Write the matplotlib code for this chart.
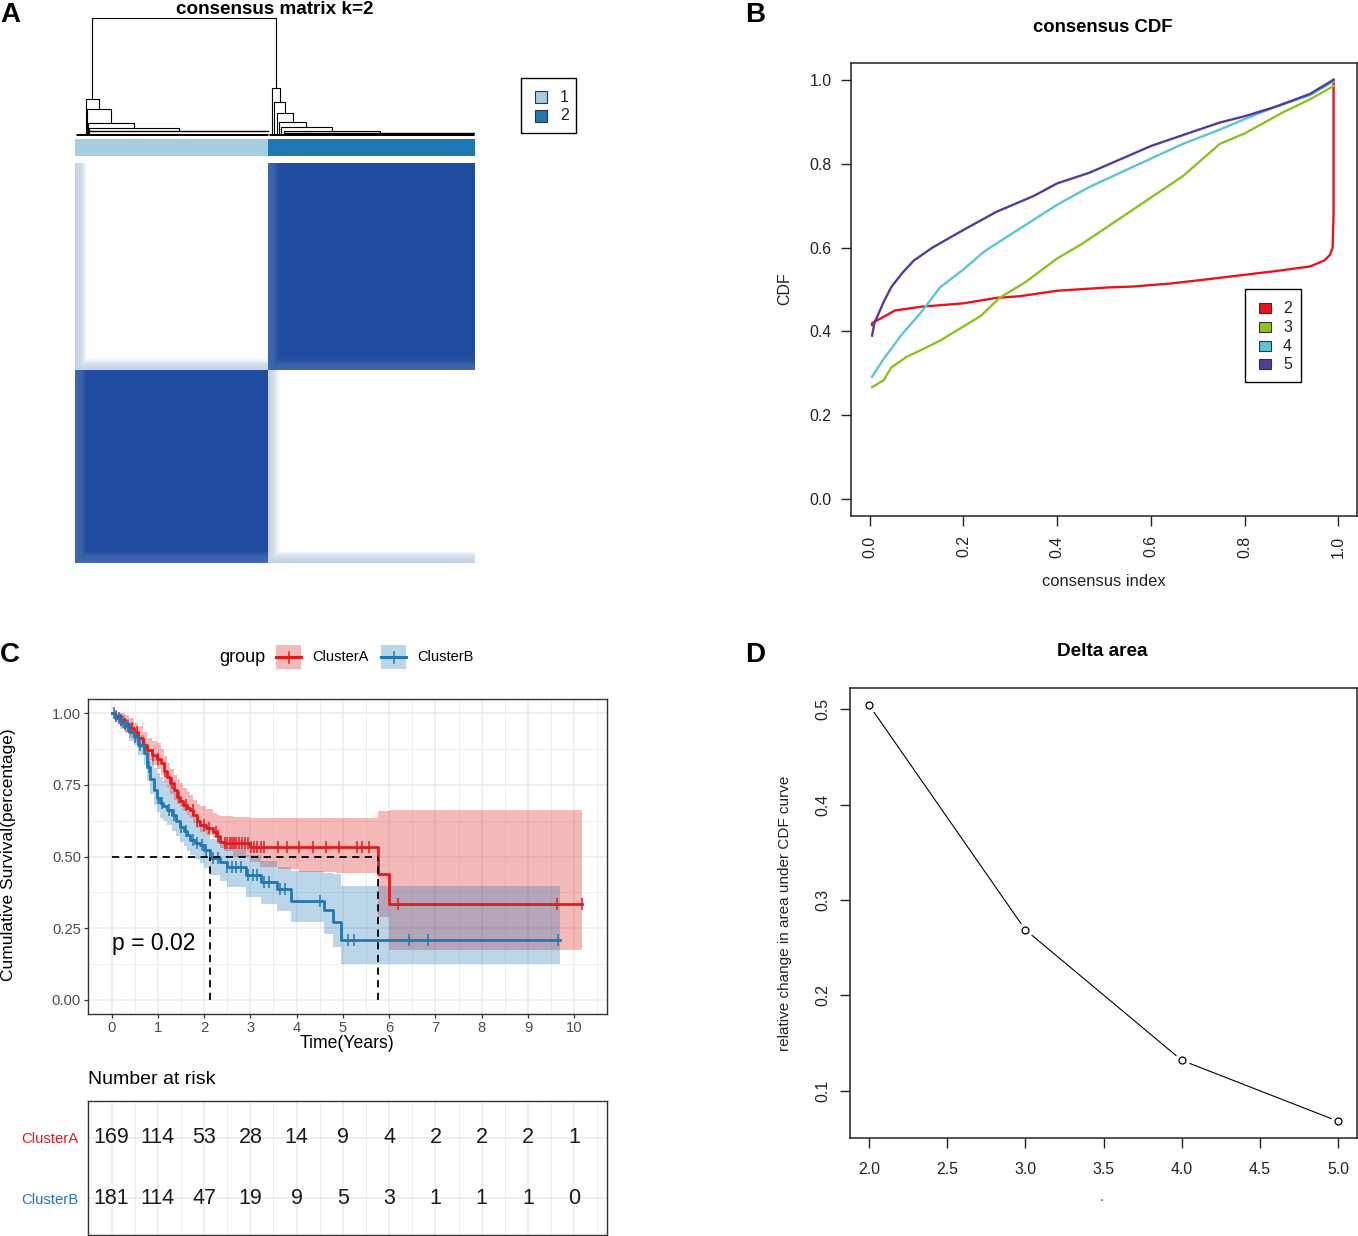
import numpy as np
import matplotlib
matplotlib.use("Agg")
import matplotlib.pyplot as plt
from matplotlib.colors import LinearSegmentedColormap, ListedColormap
from matplotlib.patches import Rectangle

plt.rcParams['font.family'] = ['Liberation Sans', 'DejaVu Sans']

# ---------------- DATA ----------------
# Panel A: consensus matrix k=2
cluster_sizes = [169, 181]
cluster_colors = ['#A6CEE3', '#1F78B4']
cluster_names = ['1', '2']
# ambiguous samples at start of each cluster (consensus with the other cluster)
amb_c1 = [0.26, 0.25, 0.24, 0.22, 0.21, 0.19, 0.17, 0.14, 0.10, 0.06]
amb_c2 = [0.25, 0.24, 0.23, 0.21, 0.19, 0.17, 0.14, 0.11, 0.07, 0.04]
# dendrogram: chain of outlier merges (column index, merge height) per cluster
dend_c1_cols = [9, 10, 11, 12]
dend_c1_heights = [0.31, 0.22, 0.10, 0.06]
dend_c1_block_h = 0.03
dend_c2_cols = [172, 174, 176, 178, 180, 182]
dend_c2_heights = [0.40, 0.28, 0.19, 0.11, 0.07, 0.03]
dend_c2_block_h = 0.015

# Panel B: consensus CDF
cdf_k = ['2', '3', '4', '5']
cdf_colors = ['#E8141B', '#8DC21F', '#5BC5D6', '#553C9A']
cdf2_x = [0.005, 0.005, 0.02, 0.054, 0.11, 0.2, 0.27, 0.32, 0.4, 0.51, 0.56, 0.64, 0.71, 0.8, 0.867, 0.94, 0.97, 0.982, 0.988, 0.99, 0.99]
cdf2_y = [0.415, 0.42, 0.429, 0.45, 0.459, 0.467, 0.48, 0.484, 0.497, 0.505, 0.507, 0.514, 0.523, 0.535, 0.544, 0.555, 0.569, 0.582, 0.6, 0.68, 1.0]
cdf3_x = [0.005, 0.03, 0.046, 0.078, 0.11, 0.15, 0.2, 0.237, 0.277, 0.333, 0.4, 0.452, 0.508, 0.6, 0.668, 0.747, 0.8, 0.883, 0.939, 0.99]
cdf3_y = [0.267, 0.284, 0.314, 0.339, 0.356, 0.378, 0.412, 0.437, 0.48, 0.518, 0.574, 0.608, 0.65, 0.719, 0.77, 0.847, 0.872, 0.923, 0.953, 0.985]
cdf4_x = [0.005, 0.03, 0.07, 0.11, 0.15, 0.2, 0.245, 0.285, 0.4, 0.468, 0.6, 0.668, 0.747, 0.8, 0.867, 0.939, 0.99]
cdf4_y = [0.292, 0.335, 0.395, 0.446, 0.505, 0.548, 0.591, 0.62, 0.702, 0.744, 0.812, 0.847, 0.881, 0.906, 0.936, 0.963, 0.996]
cdf5_x = [0.005, 0.01, 0.03, 0.046, 0.07, 0.094, 0.134, 0.2, 0.27, 0.35, 0.4, 0.468, 0.6, 0.668, 0.747, 0.8, 0.867, 0.939, 0.99]
cdf5_y = [0.39, 0.42, 0.471, 0.506, 0.54, 0.569, 0.6, 0.642, 0.685, 0.723, 0.753, 0.778, 0.842, 0.868, 0.898, 0.913, 0.936, 0.966, 1.0]

# Panel C: Kaplan-Meier
groups = ['ClusterA', 'ClusterB']
group_colors = ['#E31A1C', '#1F78B4']
kmA_t = [0, 0.08, 0.18, 0.28, 0.38, 0.48, 0.58, 0.68, 0.77, 0.87, 0.98, 1.06, 1.13, 1.20, 1.27, 1.34, 1.41, 1.48, 1.55, 1.62,
         1.70, 1.77, 1.84, 1.91, 2.05, 2.20, 2.27, 2.34, 2.42, 2.63, 2.99, 3.2, 3.6, 4.06, 4.86, 5.75, 6.00]
kmA_s = [1.0, 0.99, 0.975, 0.962, 0.948, 0.935, 0.915, 0.89, 0.871, 0.856, 0.842, 0.825, 0.80, 0.778, 0.755, 0.732, 0.709, 0.695, 0.68, 0.67,
         0.662, 0.645, 0.625, 0.61, 0.60, 0.587, 0.57, 0.552, 0.546, 0.546, 0.532, 0.532, 0.532, 0.532, 0.532, 0.44, 0.335]
kmA_up = [1.0, 1.0, 1.0, 0.995, 0.985, 0.965, 0.955, 0.935, 0.915, 0.905, 0.895, 0.875, 0.85, 0.825, 0.805, 0.785, 0.77, 0.755, 0.74, 0.725,
          0.715, 0.697, 0.685, 0.675, 0.665, 0.651, 0.645, 0.64, 0.64, 0.638, 0.635, 0.635, 0.635, 0.635, 0.635, 0.66, 0.662]
kmA_lo = [1.0, 0.975, 0.955, 0.935, 0.915, 0.9, 0.88, 0.86, 0.836, 0.82, 0.805, 0.785, 0.76, 0.743, 0.72, 0.698, 0.683, 0.674, 0.66, 0.645,
          0.635, 0.616, 0.6, 0.585, 0.575, 0.563, 0.545, 0.53, 0.52, 0.5, 0.48, 0.465, 0.455, 0.447, 0.442, 0.29, 0.175]
kmA_end = 10.17
kmA_cens = [0.1, 0.2, 0.3, 0.45, 0.55, 0.7, 0.9, 1.0, 1.15, 1.3, 1.45, 1.6, 1.75, 1.85, 2.0, 2.1, 2.25, 2.3,
            2.45, 2.5, 2.55, 2.6, 2.65, 2.7, 2.75, 2.82, 2.88, 2.95, 3.01, 3.08, 3.15, 3.22, 3.3, 3.6, 3.8, 4.05,
            4.35, 4.63, 4.92, 5.31, 5.42, 5.56, 6.2, 9.63, 10.17]
kmB_t = [0, 0.08, 0.18, 0.28, 0.38, 0.48, 0.58, 0.69, 0.77, 0.84, 0.91, 0.98, 1.05, 1.12, 1.2, 1.3, 1.4, 1.48, 1.56, 1.63,
         1.70, 1.8, 1.91, 2.0, 2.13, 2.34, 2.5, 2.9, 3.22, 3.58, 3.87, 4.6, 4.78, 4.96]
kmB_s = [1.0, 0.985, 0.97, 0.955, 0.935, 0.917, 0.89, 0.86, 0.813, 0.77, 0.732, 0.705, 0.686, 0.675, 0.662, 0.645, 0.625, 0.604, 0.59, 0.575,
         0.558, 0.548, 0.54, 0.523, 0.495, 0.481, 0.463, 0.434, 0.411, 0.388, 0.345, 0.313, 0.272, 0.21]
kmB_up = [1.0, 1.0, 0.995, 0.98, 0.965, 0.945, 0.925, 0.9, 0.87, 0.84, 0.81, 0.79, 0.778, 0.765, 0.75, 0.73, 0.71, 0.69, 0.675, 0.66,
          0.645, 0.625, 0.61, 0.595, 0.56, 0.546, 0.53, 0.505, 0.483, 0.465, 0.45, 0.442, 0.44, 0.398]
kmB_lo = [1.0, 0.97, 0.945, 0.93, 0.905, 0.89, 0.855, 0.82, 0.765, 0.72, 0.68, 0.655, 0.635, 0.625, 0.61, 0.59, 0.57, 0.55, 0.535, 0.52,
          0.505, 0.49, 0.478, 0.46, 0.435, 0.415, 0.395, 0.36, 0.335, 0.31, 0.27, 0.23, 0.185, 0.123]
kmB_end = 9.7
kmB_cens = [0.05, 0.15, 0.25, 0.35, 0.5, 0.62, 0.8, 1.0, 1.1, 1.25, 1.35, 1.5, 1.6, 1.75, 1.85, 1.95, 2.05,
            2.2, 2.3, 2.5, 2.6, 2.7, 2.8, 2.95, 3.05, 3.15, 3.3, 3.4, 3.65, 3.75, 4.5, 5.1, 5.25, 6.43, 6.83, 9.66]
p_text = 'p = 0.02'
risk_times = [0, 1, 2, 3, 4, 5, 6, 7, 8, 9, 10]
riskA = [169, 114, 53, 28, 14, 9, 4, 2, 2, 2, 1]
riskB = [181, 114, 47, 19, 9, 5, 3, 1, 1, 1, 0]

# Panel D: delta area
delta_k = [2, 3, 4, 5]
delta_area = [0.505, 0.269, 0.132, 0.068]

# ---------------- FIGURE ----------------
W, H = 1358, 1236
DPI = 100
fig = plt.figure(figsize=(W / DPI, H / DPI), dpi=DPI)


def axpx(x0, y0, x1, y1, **kw):
    return fig.add_axes([x0 / W, 1 - y1 / H, (x1 - x0) / W, (y1 - y0) / H], **kw)


# ---------- Panel A ----------
N = sum(cluster_sizes)
labels = np.repeat(np.arange(len(cluster_sizes)), cluster_sizes)
amb = np.zeros(N)
amb[:len(amb_c1)] = amb_c1
amb[cluster_sizes[0]:cluster_sizes[0] + len(amb_c2)] = amb_c2
A = np.maximum.outer(amb, amb)
same = labels[:, None] == labels[None, :]
M = np.where(same, 1 - 0.6 * A, A)

ax_d = axpx(75, 18, 475, 136)
ax_d.set_xlim(0, N)
ax_d.set_ylim(-0.01, 1.0)
ax_d.axis('off')


def draw_cluster(ax, start, size, cols, heights, block_h):
    end = start + size
    block_start = max(cols) + 1
    ax.plot([start + 0.5, end - 0.5], [0, 0], color='k', lw=2.2, solid_capstyle='butt')
    ax.plot([block_start + 0.5, end - 0.5], [block_h, block_h], color='k', lw=1.0)
    px, ph = (block_start + end) / 2, block_h
    for c, h in sorted(zip(cols, heights), key=lambda p: p[1]):
        lx = c + 0.5
        ax.plot([lx, lx, px, px], [0, h, h, ph], color='k', lw=0.8)
        px, ph = (lx + px) / 2, h
    return px, ph


x1, h1 = draw_cluster(ax_d, 0, cluster_sizes[0], dend_c1_cols, dend_c1_heights, dend_c1_block_h)
x2, h2 = draw_cluster(ax_d, cluster_sizes[0], cluster_sizes[1], dend_c2_cols, dend_c2_heights, dend_c2_block_h)
ax_d.plot([x1, x1, x2, x2], [h1, 1.0, 1.0, h2], color='k', lw=0.8, clip_on=False)

ax_bar = axpx(75, 139, 475, 156)
ax_bar.imshow(labels[None, :], cmap=ListedColormap(cluster_colors), aspect='auto',
              extent=(0, N, 0, 1), interpolation='nearest')
ax_bar.axis('off')

ax_h = axpx(75, 163, 475, 563)
cmap = LinearSegmentedColormap.from_list('cc', ['#FFFFFF', '#1F4C9E'])
ax_h.imshow(M, cmap=cmap, vmin=0, vmax=1, origin='lower', extent=(0, N, 0, N),
            aspect='auto', interpolation='nearest')
ax_h.axis('off')

# ---------- Panel B ----------
ax_b = axpx(851, 63, 1357, 516)
for xs, ys, c in zip([cdf2_x, cdf3_x, cdf4_x, cdf5_x], [cdf2_y, cdf3_y, cdf4_y, cdf5_y], cdf_colors):
    ax_b.plot(xs, ys, color=c, lw=1.7)
ax_b.set_xlim(-0.04, 1.04)
ax_b.set_ylim(-0.04, 1.04)
ticks = np.arange(0, 1.01, 0.2)
ax_b.set_xticks(ticks)
ax_b.set_xticklabels(['%.1f' % v for v in ticks], rotation=90)
ax_b.set_yticks(ticks)
ax_b.set_yticklabels(['%.1f' % v for v in ticks])
ax_b.tick_params(length=7, width=1, pad=7, labelsize=11.4, colors='#222222')
for s in ax_b.spines.values():
    s.set_linewidth(1.1)
    s.set_color('#222222')

# ---------- Panel C ----------
ax_c = axpx(88, 699, 607, 1014)
ax_c.set_xlim(-0.51, 10.71)
ax_c.set_ylim(-0.05, 1.05)
ax_c.set_xticks(range(0, 11))
ax_c.set_xticks(np.arange(0.5, 10.6, 1.0), minor=True)
ax_c.set_yticks([0, 0.25, 0.5, 0.75, 1.0])
ax_c.set_yticklabels(['0.00', '0.25', '0.50', '0.75', '1.00'])
ax_c.set_yticks([0.125, 0.375, 0.625, 0.875], minor=True)
ax_c.grid(which='major', color='#EBEBEB', lw=1.1)
ax_c.grid(which='minor', color='#EBEBEB', lw=0.6)
ax_c.set_axisbelow(True)
ax_c.tick_params(which='major', length=3, width=0.9, color='#333333', labelcolor='#4D4D4D', labelsize=10.6, pad=2)
ax_c.tick_params(which='minor', length=0)
for s in ax_c.spines.values():
    s.set_color('#333333')
    s.set_linewidth(1.0)

km = [(kmA_t, kmA_s, kmA_up, kmA_lo, kmA_end, kmA_cens), (kmB_t, kmB_s, kmB_up, kmB_lo, kmB_end, kmB_cens)]
for (t, s, up, lo, end, cens), col in zip(km, group_colors):
    te = list(t) + [end]
    ax_c.fill_between(te, list(lo) + [lo[-1]], list(up) + [up[-1]], step='post', color=col, alpha=0.3, lw=0, zorder=1)
medians = []
for (t, s, up, lo, end, cens), col in zip(km, group_colors):
    te = list(t) + [end]
    se = list(s) + [s[-1]]
    ax_c.step(te, se, where='post', color=col, lw=2.0, zorder=3)
    idx = np.searchsorted(t, cens, side='right') - 1
    ax_c.plot(cens, np.array(s)[idx], ls='none', marker='|', ms=8, mew=1.1, color=col, zorder=3)
    below = [ti for ti, si in zip(t, s) if si <= 0.5]
    medians.append(below[0])
ax_c.plot([0, max(medians)], [0.5, 0.5], color='k', ls=(0, (4, 3)), lw=1.3, zorder=4)
for m in medians:
    ax_c.plot([m, m], [0, 0.5], color='k', ls=(0, (4, 3)), lw=1.3, zorder=4)
ax_c.text(0.0, 0.195, p_text, ha='left', va='center', fontsize=16.5)

# risk table
ax_r = axpx(88, 1101, 607, 1235)
ax_r.set_xlim(-0.51, 10.71)
ax_r.set_ylim(0.4, 2.6)
ax_r.set_xticks(range(0, 11))
ax_r.set_xticks(np.arange(0.5, 10.6, 1.0), minor=True)
ax_r.set_xticklabels([])
ax_r.set_yticks([2, 1])
ax_r.set_yticklabels(groups)
for lab, col in zip(ax_r.get_yticklabels(), group_colors):
    lab.set_color(col)
ax_r.tick_params(which='both', length=0, labelsize=10.7, pad=7)
ax_r.grid(which='major', color='#EBEBEB', lw=1.1)
ax_r.grid(which='minor', axis='x', color='#EBEBEB', lw=0.6)
ax_r.set_axisbelow(True)
for s in ax_r.spines.values():
    s.set_color('#333333')
    s.set_linewidth(1.0)
for row, vals in zip([2, 1], [riskA, riskB]):
    for tt, v in zip(risk_times, vals):
        ax_r.text(tt, row, str(v), ha='center', va='center', fontsize=15.5, color='#1A1A1A')

# ---------- Panel D ----------
ax_dd = axpx(850, 688, 1357, 1138)
ax_dd.plot(delta_k, delta_area, color='k', lw=0.8, zorder=2)
ax_dd.plot(delta_k, delta_area, ls='none', marker='o', ms=10, mfc='white', mec='white', zorder=3)
ax_dd.plot(delta_k, delta_area, ls='none', marker='o', ms=5, mfc='white', mec='k', mew=0.9, zorder=4)
ax_dd.set_xlim(1.88, 5.12)
ax_dd.set_ylim(0.0505, 0.5225)
ax_dd.set_xticks(np.arange(2.0, 5.01, 0.5))
ax_dd.set_xticklabels(['%.1f' % v for v in np.arange(2.0, 5.01, 0.5)])
ax_dd.set_yticks([0.1, 0.2, 0.3, 0.4, 0.5])
ax_dd.set_yticklabels(['0.1', '0.2', '0.3', '0.4', '0.5'], rotation=90, va='center')
ax_dd.tick_params(length=7, width=1, labelsize=11.4, colors='#222222')
ax_dd.tick_params(axis='x', pad=10)
ax_dd.tick_params(axis='y', pad=7)
for s in ax_dd.spines.values():
    s.set_linewidth(1.1)
    s.set_color('#222222')

# ---------- Overlay: titles, labels, legends ----------
ov = fig.add_axes([0, 0, 1, 1], zorder=10)
ov.set_xlim(0, W)
ov.set_ylim(H, 0)
ov.axis('off')
ov.patch.set_alpha(0)

for lt, x, y in [('A', 0, 15), ('B', 745, 15), ('C', 0, 655), ('D', 745, 655)]:
    ov.text(x, y, lt, fontsize=20, fontweight='bold', ha='left', va='center')

ov.text(275, 9, 'consensus matrix k=2', fontsize=13.6, fontweight='bold', ha='center', va='center')
ov.text(1103, 27, 'consensus CDF', fontsize=13.3, fontweight='bold', ha='center', va='center')
ov.text(1102, 651, 'Delta area', fontsize=13.7, fontweight='bold', ha='center', va='center')

# Panel A legend
ov.add_patch(Rectangle((521, 78), 55, 55, fill=False, ec='k', lw=1))
for i, (c, nm) in enumerate(zip(cluster_colors, cluster_names)):
    yy = 91 + i * 19
    ov.add_patch(Rectangle((535, yy), 12, 12, fc=c, ec='#333333', lw=0.8))
    ov.text(560, yy + 6, nm, fontsize=11.5, ha='left', va='center', color='#222222')

# Panel B labels and legend
ov.text(785, 289, 'CDF', fontsize=11.5, rotation=90, ha='center', va='center', color='#222222')
ov.text(1104, 582, 'consensus index', fontsize=11.9, ha='center', va='center', color='#222222')
ov.add_patch(Rectangle((1245, 289), 56, 93, fill=False, ec='k', lw=1))
for i, (c, nm) in enumerate(zip(cdf_colors, cdf_k)):
    yy = 303 + i * 18.8
    ov.add_patch(Rectangle((1259, yy), 12, 10, fc=c, ec='#333333', lw=0.8))
    ov.text(1283, yy + 5.5, nm, fontsize=11.5, ha='left', va='center', color='#222222')

# Panel C legend & labels
ov.text(219, 657, 'group', fontsize=13, ha='left', va='center')
for x0, c, nm in [(276, group_colors[0], groups[0]), (381, group_colors[1], groups[1])]:
    ov.add_patch(Rectangle((x0, 645), 25, 24, fc=c, alpha=0.3, ec='none'))
    ov.plot([x0, x0 + 25], [657, 657], color=c, lw=2.2)
    ov.plot([x0 + 12.5, x0 + 12.5], [651.5, 662.5], color=c, lw=1.1)
    ov.text(x0 + 36, 657, nm, fontsize=10.5, ha='left', va='center')
ov.text(9, 855, 'Cumulative Survival(percentage)', fontsize=12.5, rotation=90, ha='center', va='center')
ov.text(347, 1044, 'Time(Years)', fontsize=12.7, ha='center', va='center')
ov.text(88, 1079, 'Number at risk', fontsize=14, ha='left', va='center')

# Panel D labels
ov.text(785, 913, 'relative change in area under CDF curve', fontsize=11, rotation=90,
        ha='center', va='center', color='#222222')
ov.text(1102, 1197, '.', fontsize=11, ha='center', va='center', color='#555555')

fig.savefig('out.png', dpi=DPI)
